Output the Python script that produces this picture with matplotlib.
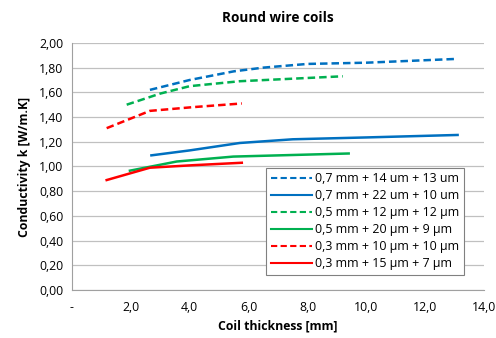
import matplotlib.pyplot as plt
from matplotlib.ticker import FuncFormatter

# coil thickness [mm] / conductivity k [W/m.K]
x_07_a = [2.65, 4.0, 5.5, 6.5, 8.0, 10.0, 13.0]
k_07_a = [1.62, 1.70, 1.77, 1.80, 1.83, 1.84, 1.87]
x_07_b = [2.7, 4.0, 5.7, 7.5, 10.0, 13.1]
k_07_b = [1.09, 1.13, 1.19, 1.22, 1.235, 1.255]
x_05_a = [1.86, 3.0, 4.0, 5.7, 9.2]
k_05_a = [1.50, 1.59, 1.65, 1.69, 1.73]
x_05_b = [1.97, 3.56, 5.48, 9.4]
k_05_b = [0.966, 1.04, 1.08, 1.105]
x_03_a = [1.18, 2.65, 4.1, 5.77]
k_03_a = [1.31, 1.45, 1.48, 1.51]
x_03_b = [1.18, 2.65, 4.1, 5.77]
k_03_b = [0.89, 0.99, 1.01, 1.03]

labels = ['0,7 mm + 14 um + 13 um', '0,7 mm + 22 um + 10 um',
          '0,5 mm + 12 µm + 12 µm', '0,5 mm + 20 µm + 9 µm',
          '0,3 mm + 10 µm + 10 µm', '0,3 mm + 15 µm + 7 µm']

plt.rcParams['font.family'] = ['Open Sans', 'DejaVu Sans']

fig = plt.figure(figsize=(4.96, 3.38), dpi=100)
ax = fig.add_axes([0.145, 0.142, 0.831, 0.731])

blue, green, red = '#0070C0', '#00B050', '#FF0000'
dash = (0, (3, 1.6))
series = [(x_07_a, k_07_a, blue, dash), (x_07_b, k_07_b, blue, '-'),
          (x_05_a, k_05_a, green, dash), (x_05_b, k_05_b, green, '-'),
          (x_03_a, k_03_a, red, dash), (x_03_b, k_03_b, red, '-')]
for (xs, ks, c, ls), lab in zip(series, labels):
    ax.plot(xs, ks, color=c, linestyle=ls, linewidth=1.8, label=lab)

ax.set_xlim(0, 14)
ax.set_ylim(0, 2)
ax.set_xticks(range(0, 15, 2))
ax.set_yticks([i * 0.2 for i in range(11)])
ax.xaxis.set_major_formatter(FuncFormatter(lambda v, p: '-' if v == 0 else f'{v:.1f}'.replace('.', ',')))
ax.yaxis.set_major_formatter(FuncFormatter(lambda v, p: f'{v:.2f}'.replace('.', ',')))
ax.tick_params(length=0, labelsize=8.8, pad=6)
ax.tick_params(axis='x', pad=8)

ax.grid(axis='y', color='#c0c0c0', linewidth=0.9)
ax.set_axisbelow(True)
for s in ['top', 'right']:
    ax.spines[s].set_visible(False)
ax.spines['left'].set_color('#a0a0a0')
ax.spines['bottom'].set_color('#a0a0a0')

ax.set_title('Round wire coils', fontsize=9.8, fontweight='bold', pad=15)
ax.set_xlabel('Coil thickness [mm]', fontsize=8.8, fontweight='bold', labelpad=4)
ax.set_ylabel('Conductivity k [W/m.K]', fontsize=8.8, fontweight='bold', labelpad=6)

leg = ax.legend(loc='lower right', bbox_to_anchor=(0.96, 0.045), fontsize=8.9,
                frameon=True, fancybox=False, edgecolor='#808080', framealpha=1,
                handlelength=3.3, handletextpad=0.2, labelspacing=0.32, borderpad=0.4,
                borderaxespad=0.3)
leg.get_frame().set_linewidth(0.8)
for h in leg.get_lines():
    h.set_linewidth(1.5)

fig.savefig('out.png', dpi=100)
